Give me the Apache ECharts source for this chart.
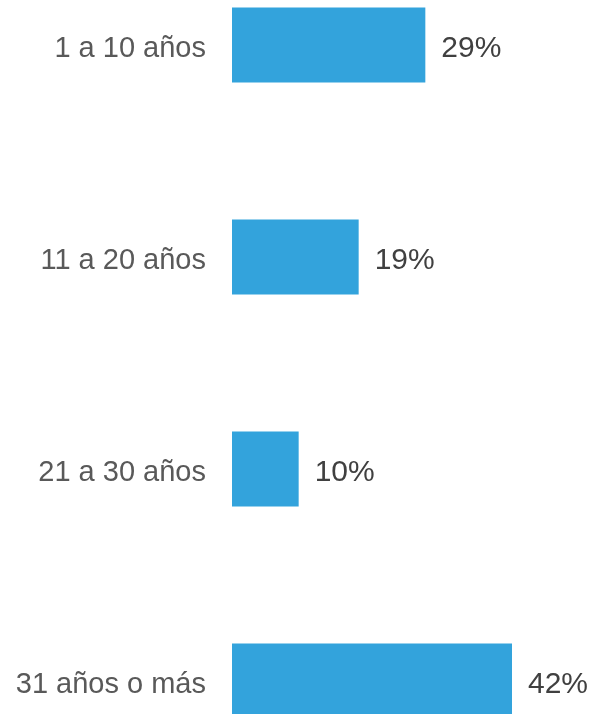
<!DOCTYPE html>
<html><head><meta charset="utf-8">
<script src="https://cdn.jsdelivr.net/npm/echarts@6/dist/echarts.min.js"></script>
<style>html,body{margin:0;padding:0;background:#fff}#c{width:594px;height:714px}</style>
</head><body><div id="c"></div>
<script>
const categories = ["1 a 10 años", "11 a 20 años", "21 a 30 años", "31 años o más"];
const values = [29, 19, 10, 42];
const FF = "'Liberation Sans', Arial, sans-serif";
const chart = echarts.init(document.getElementById('c'), null, {renderer: 'canvas'});
chart.setOption({
  animation: false,
  grid: {left: 232, right: 82, top: -61, bottom: -73, containLabel: false, outerBoundsMode: 'none'},
  xAxis: {type: 'value', min: 0, max: 42, show: false},
  yAxis: {
    type: 'category', data: categories, inverse: true,
    axisLine: {show: false}, axisTick: {show: false},
    axisLabel: {
      margin: 26,
      formatter: v => '{a|' + v + '}',
      rich: {a: {color: '#595959', fontSize: 29, fontFamily: FF, padding: [8, 0, 0, 0]}}
    }
  },
  series: [{
    type: 'bar', data: values, barWidth: 75,
    itemStyle: {color: '#33A3DC'},
    label: {show: true, position: 'right', distance: 16, offset: [0, 4], formatter: '{c}%', color: '#404040', fontSize: 30, fontFamily: FF}
  }]
});
</script></body></html>
